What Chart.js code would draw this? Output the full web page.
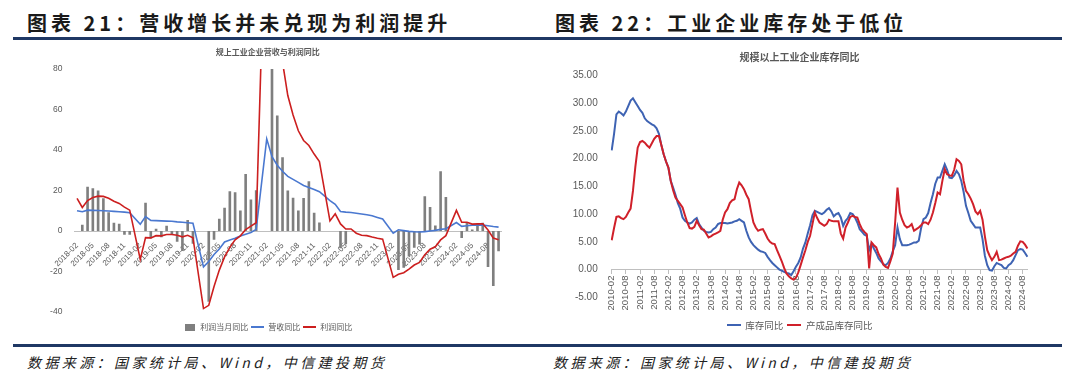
<!DOCTYPE html>
<html><head><meta charset="utf-8">
<script src="https://cdn.jsdelivr.net/npm/chart.js@4.4.1/dist/chart.umd.min.js"></script>
<style>
html,body{margin:0;padding:0;background:#fff;width:1080px;height:384px;overflow:hidden;position:relative;font-family:'Noto Sans CJK SC',sans-serif;}
.t{position:absolute;top:8px;font-size:20px;font-weight:bold;color:#1a1a1a;letter-spacing:4px;white-space:nowrap;}
.rule{position:absolute;left:13px;width:1049px;height:3px;background:#1F3864;}
.src{position:absolute;top:352px;font-size:14px;font-style:italic;color:#222;letter-spacing:3.4px;white-space:nowrap;}
canvas{position:absolute;}
</style></head>
<body>
<div class="t" style="left:27px">图表 21：营收增长并未兑现为利润提升</div>
<div class="t" style="left:555px">图表 22：工业企业库存处于低位</div>
<div class="rule" style="top:37px"></div>
<div class="rule" style="top:344px"></div>
<div class="src" style="left:27px">数据来源：国家统计局、Wind，中信建投期货</div>
<div class="src" style="left:553px">数据来源：国家统计局、Wind，中信建投期货</div>
<canvas id="c1" width="540" height="305" style="left:0;top:40px"></canvas>
<canvas id="c2" width="534" height="305" style="left:536px;top:40px"></canvas>
<script>
// ---------- Left chart data (2018-02 .. 2024-10, monthly) ----------
const leftStart = [2018, 2], leftEnd = [2024, 10];
const profitMonthly = [
  null, 3.1, 21.9, 21.1, 20.0, 16.2, 9.2, 4.1, 3.6, -1.8, -1.9,                 // 2018
  null, null, 13.9, -3.7, 1.1, -3.1, 2.6, -2.0, -5.3, -9.9, 5.4, -6.3,          // 2019
  null, null, -34.9, -4.3, 6.0, 11.5, 19.6, 19.1, 10.1, 28.2, 15.5, 20.1,       // 2020
  null, null, 92.3, 57.0, 36.4, 20.0, 16.4, 10.1, 16.3, 24.6, 9.0, 4.2,         // 2021
  null, null, null, -8.5, -6.5, null, null, null, null, null, null, null,       // 2022
  null, null, -19.2, -18.2, -12.6, -8.3, -6.7, 17.2, 11.9, 2.7, 29.5, 16.8,     // 2023
  null, null, -3.5, 4.0, 0.7, 3.6, 4.1, -17.8, -27.1, -10.0                     // 2024
];
const revenueYoY = [
  10.0, 9.5, 10.3, 10.2, 10.1, 10.0, 9.9, 9.7, 9.5, 9.3, 9.0,
  null, 3.3, 7.1, 5.2, 5.1, 5.0, 4.9, 4.8, 4.5, 4.3, 4.1, 3.8,
  null, -17.7, -15.1, -11.6, -8.9, -5.4, -4.4, -3.6, -2.5, -1.6, -0.7, 0.8,
  null, 45.5, 36.7, 32.5, 29.5, 27.0, 25.5, 24.0, 22.5, 21.5, 20.5, 19.4,
  null, 15.0, 13.2, 9.6, 9.3, 9.1, 8.8, 8.4, 8.0, 7.5, 6.7, 5.9,
  null, -1.1, 0.6, 0.2, -0.2, -0.4, -0.5, -0.3, 0.0, 0.3, 0.8, 1.1,
  null, 4.2, 2.3, 2.6, 2.9, 2.9, 2.9, 2.6, 2.2, 1.9
];
const profitYoY = [
  16.1, 11.6, 15.0, 16.5, 17.2, 17.1, 16.2, 14.7, 13.6, 11.8, 10.3,
  null, -14.0, -3.3, -3.4, -2.3, -2.4, -1.7, -1.7, -2.1, -2.9, -2.1, -3.3,
  null, -38.3, -36.7, -27.4, -19.3, -12.8, -8.1, -4.4, -2.4, 0.7, 2.4, 4.1,
  null, 178.9, 137.3, 106.0, 83.4, 66.9, 57.3, 49.5, 44.7, 42.2, 38.0, 34.3,
  null, 5.0, 8.5, 3.5, 1.0, 1.0, -1.1, -2.1, -2.3, -3.0, -3.6, -4.0,
  null, -22.9, -21.4, -20.6, -18.8, -16.8, -15.5, -11.7, -9.0, -7.8, -4.4, -2.3,
  null, 10.2, 4.3, 4.3, 3.4, 3.5, 3.6, 0.5, -3.5, -4.3
];
const leftTicks = [-40, -20, 0, 20, 40, 60, 80];

// ---------- Right chart data (2010-02 .. 2024-10, monthly) ----------
const rightStart = [2010, 2], rightEnd = [2024, 10];
const inventoryYoY = [
  21.5, 24.5, 28.0, 28.5, 28.2, 27.8, 28.5, 29.5, 30.5, 30.9, 30.2,             // 2010
  29.5, 28.8, 28.3, 27.3, 26.8, 26.5, 26.2, 26.0, 25.5, 24.5, 22.5, 20.8,       // 2011
  19.5, 18.4, 16.0, 14.8, 13.5, 12.0, 11.0, 9.4, 8.8, 8.5, 8.3, 8.5,            // 2012
  9.0, 9.3, 8.2, 7.6, 7.0, 6.8, 6.7, 6.8, 7.3, 7.6, 8.2, 8.4,                   // 2013
  8.4, 8.4, 8.3, 8.4, 8.5, 8.7, 8.8, 9.1, 8.8, 8.5, 7.0, 5.8,                   // 2014
  5.0, 4.4, 4.0, 3.6, 3.3, 3.2, 3.0, 2.3, 1.7, 1.2, 0.8, 0.4,                   // 2015
  0.0, -0.2, -0.4, -0.6, -0.7, -1.0, -0.3, 0.5, 1.2, 2.2, 3.8, 4.9,             // 2016
  6.5, 8.0, 9.8, 10.6, 10.4, 10.2, 10.0, 10.3, 10.8, 11.1, 10.5, 9.6,           // 2017
  10.0, 10.2, 9.4, 7.9, 8.8, 9.3, 10.2, 10.0, 9.4, 8.5, 7.3, 6.8,               // 2018
  6.3, 6.1, 3.5, 4.7, 3.8, 3.0, 2.0, 1.5, 1.0, 0.8, 1.2, 2.0,                   // 2019
  3.3, 4.4, 7.6, 5.5, 4.4, 4.4, 4.4, 4.5, 4.7, 4.9, 4.9, 5.2,                   // 2020
  7.5, 9.1, 9.4, 10.2, 12.0, 13.6, 15.5, 16.6, 16.6, 17.8, 19.0, 18.0,          // 2021
  16.6, 16.5, 17.0, 17.8, 17.2, 16.0, 14.0, 11.5, 10.2, 8.8, 8.2, 7.6,          // 2022
  7.6, 7.6, 5.5, 2.5, 0.8, -0.1, -0.2, 0.6, 1.2, 1.0, 0.8, 0.3,                 // 2023
  0.2, 0.8, 1.1, 1.7, 2.6, 3.5, 3.7, 3.6, 3.0, 2.3                              // 2024
];
const finishedGoodsYoY = [
  5.3, 7.5, 9.5, 9.6, 9.3, 9.1, 9.5, 10.3, 11.0, 14.2, 18.5,
  22.0, 23.0, 23.2, 22.9, 22.4, 22.0, 22.8, 23.6, 24.1, 24.1, 22.5, 20.8,
  19.5, 18.4, 16.0, 14.3, 13.0, 12.4, 11.8, 11.2, 9.8, 8.5, 7.5, 7.4,
  7.7, 8.8, 8.0, 7.3, 7.2, 6.5, 5.8, 6.0, 6.3, 6.5, 6.7, 7.0,
  9.0, 10.3, 10.9, 12.0, 12.5, 12.7, 14.5, 15.7, 15.2, 14.5, 13.5, 12.7,
  10.5, 8.5, 7.6, 7.0, 7.2, 7.3, 6.5, 5.6, 5.0, 4.7, 4.6, 3.5,
  2.5, 1.5, 0.3, -0.7, -1.2, -1.6, -1.8, -1.5, -0.5, 0.8, 2.2, 3.5,
  5.0, 6.1, 8.2, 10.3, 9.3, 8.5, 8.2, 7.9, 8.2, 9.0, 8.8, 8.7,
  8.7, 8.7, 6.5, 5.6, 7.6, 8.5, 9.5, 9.7, 9.5, 9.4, 8.2, 7.3,
  6.8, 6.4, 0.2, 4.9, 4.4, 4.0, 2.8, 2.0, 0.9, 0.5, 0.3, 1.5,
  2.9, 8.5, 14.8, 10.3, 9.0, 8.0, 7.6, 7.8, 8.2, 7.0, 7.3, 7.6,
  8.0, 8.5, 8.5, 8.2, 9.0, 10.3, 12.0, 13.9, 13.6, 16.0, 18.1, 17.2,
  17.0, 16.9, 18.0, 19.9, 19.6, 19.0, 16.0, 14.2, 13.6, 12.8, 11.8, 10.5,
  10.0, 10.6, 9.0, 6.0, 3.5, 2.5, 1.7, 2.3, 3.2, 1.7, 1.8, 2.0,
  2.2, 2.3, 2.5, 2.9, 3.2, 4.3, 5.1, 5.0, 4.5, 3.8
];
const rightTicks = [-5, 0, 5, 10, 15, 20, 25, 30, 35];

function monthLabels(s, e) {
  const out = []; let y = s[0], m = s[1];
  while (y < e[0] || (y === e[0] && m <= e[1])) {
    out.push(y + '-' + String(m).padStart(2, '0'));
    m++; if (m > 12) { m = 1; y++; }
  }
  return out;
}
const leftLabels = monthLabels(leftStart, leftEnd);
const rightLabels = monthLabels(rightStart, rightEnd);

Chart.defaults.font.family = "'Liberation Sans','Noto Sans CJK SC',sans-serif";
Chart.defaults.color = '#595959';
Chart.defaults.animation = false;

const GRAY = '#7f7f7f';
function icon(w, h, color) {
  const c = document.createElement('canvas');
  c.width = w; c.height = h;
  const g = c.getContext('2d'); g.fillStyle = color; g.fillRect(0, 0, w, h);
  return c;
}
const sortByIndex = (a, b) => a.datasetIndex - b.datasetIndex;

const L_BLUE = '#4a78d0', L_RED = '#cc1f1f';
const R_BLUE = '#3e63b3', R_RED = '#d0202a';

new Chart(document.getElementById('c1'), {
  data: {
    labels: leftLabels,
    datasets: [
      { type: 'bar', label: '利润当月同比', data: profitMonthly, backgroundColor: GRAY,
        barPercentage: 0.5, categoryPercentage: 1.0, order: 2, pointStyle: icon(10, 7, GRAY) },
      { type: 'line', label: '营收同比', data: revenueYoY, borderColor: L_BLUE, borderWidth: 1.6,
        pointRadius: 0, tension: 0, spanGaps: true, order: 1, pointStyle: icon(13, 2, L_BLUE) },
      { type: 'line', label: '利润同比', data: profitYoY, borderColor: L_RED, borderWidth: 1.6,
        pointRadius: 0, tension: 0, spanGaps: true, order: 0, pointStyle: icon(13, 2, L_RED) }
    ]
  },
  options: {
    responsive: false, devicePixelRatio: 1,
    layout: { padding: { left: 34.4, right: 38.8, top: 0, bottom: 4 } },
    plugins: {
      tooltip: { enabled: false },
      title: { display: true, text: '规上工业企业营收与利润同比', color: '#595959',
        font: { size: 8, family: "'Noto Sans CJK SC',sans-serif" }, padding: { top: 7, bottom: 12.4 } },
      legend: { position: 'bottom',
        title: { display: true, text: '', font: { size: 1 }, padding: { top: 6.8, bottom: 0 } },
        labels: { usePointStyle: true, pointStyleWidth: 13, sort: sortByIndex, padding: 3,
          color: '#595959', font: { size: 8, family: "'Noto Sans CJK SC',sans-serif" } } }
    },
    scales: {
      x: { type: 'category', position: { y: 0 }, offset: true,
        grid: { display: false }, border: { display: true, color: '#bfbfbf' },
        ticks: { autoSkip: false, minRotation: 45, maxRotation: 45, padding: 2,
          font: { size: 8 }, color: '#595959',
          callback: (v, i) => (i % 3 === 0 ? leftLabels[i] : null) } },
      y: { min: -40, max: 80, grid: { display: false }, border: { display: false },
        afterFit: s => { s.width = 40; },
        afterBuildTicks: s => { s.ticks = leftTicks.map(v => ({ value: v })); },
        ticks: { autoSkip: false, padding: 4, font: { size: 8.5 }, color: '#595959' } }
    }
  }
});

new Chart(document.getElementById('c2'), {
  type: 'line',
  data: {
    labels: rightLabels,
    datasets: [
      { label: '库存同比', data: inventoryYoY, borderColor: R_BLUE, borderWidth: 2,
        pointRadius: 0, tension: 0, order: 1, pointStyle: icon(14, 2, R_BLUE) },
      { label: '产成品库存同比', data: finishedGoodsYoY, borderColor: R_RED, borderWidth: 2,
        pointRadius: 0, tension: 0, order: 0, pointStyle: icon(14, 2, R_RED) }
    ]
  },
  options: {
    responsive: false, devicePixelRatio: 1,
    layout: { padding: { left: 35.7, right: 42.6, top: 0, bottom: 5.2 } },
    plugins: {
      tooltip: { enabled: false },
      title: { display: true, text: '规模以上工业企业库存同比', color: '#595959',
        font: { size: 10, family: "'Noto Sans CJK SC',sans-serif" }, padding: { top: 11, bottom: 12.6 } },
      legend: { position: 'bottom',
        title: { display: true, text: '', font: { size: 1 }, padding: { top: 17.8, bottom: 0 } },
        labels: { usePointStyle: true, pointStyleWidth: 14, sort: sortByIndex, padding: 4,
          color: '#595959', font: { size: 9.5, family: "'Noto Sans CJK SC',sans-serif" } } }
    },
    scales: {
      x: { type: 'category', position: { y: 0 }, offset: false,
        grid: { display: true, drawOnChartArea: false, drawTicks: true, tickLength: 4, color: '#bfbfbf' },
        border: { display: true, color: '#bfbfbf' },
        ticks: { autoSkip: false, minRotation: 90, maxRotation: 90, padding: 2,
          font: { size: 9.5 }, color: '#595959',
          callback: (v, i) => (i % 6 === 0 ? rightLabels[i] : null) } },
      y: { min: -5, max: 35, grid: { display: false }, border: { display: false },
        afterFit: s => { s.width = 40; },
        afterBuildTicks: s => { s.ticks = rightTicks.map(v => ({ value: v })); },
        ticks: { autoSkip: false, padding: 6, font: { size: 10 }, color: '#595959',
          callback: v => Number(v).toFixed(2) } }
    }
  }
});
</script>
</body></html>
